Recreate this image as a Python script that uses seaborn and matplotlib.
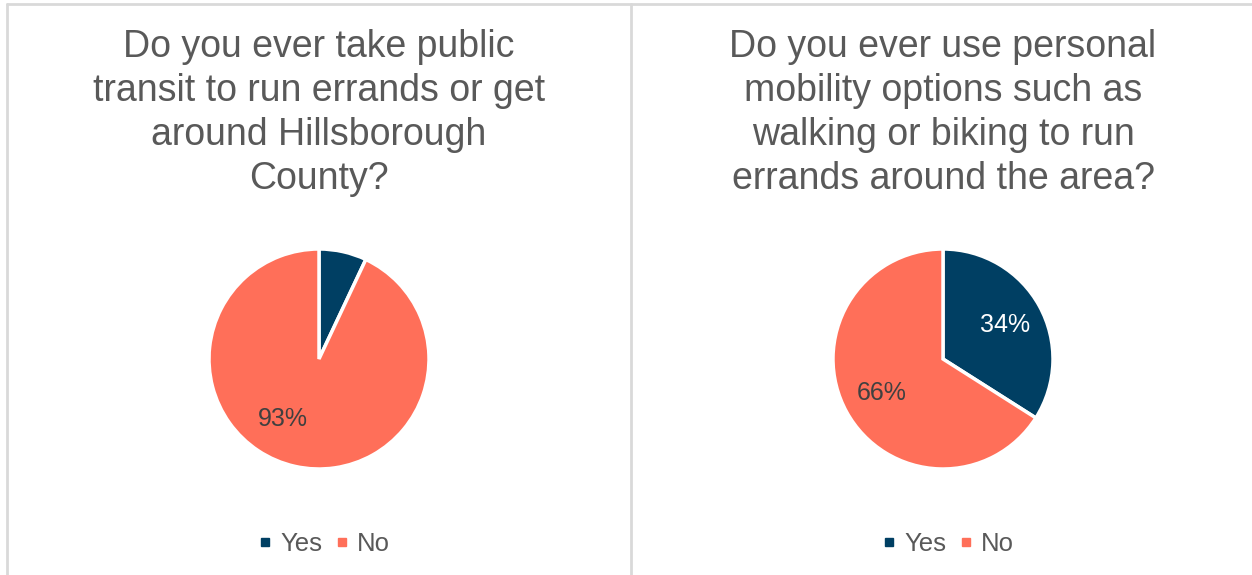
import matplotlib
matplotlib.use("Agg")
import matplotlib.pyplot as plt
from matplotlib.lines import Line2D
import seaborn as sns

# survey answers
labels = ["Yes", "No"]
transit_share = [7, 93]
mobility_share = [34, 66]
titles = [
    "Do you ever take public\ntransit to run errands or get\naround Hillsborough\nCounty?",
    "Do you ever use personal\nmobility options such as\nwalking or biking to run\nerrands around the area?",
]

sns.set_theme(style="white")
plt.rcParams["font.family"] = ["Liberation Sans", "DejaVu Sans"]

colors = ["#003F63", "#FF6F59"]
W, H = 1252, 575
fig = plt.figure(figsize=(W / 100, H / 100), dpi=100)

# panel frames
grid = "#D9D9D9"
fig.add_artist(Line2D([6.5 / W, 6.5 / W], [0, 1 - 3.5 / H], color=grid, lw=2, transform=fig.transFigure))
fig.add_artist(Line2D([6.5 / W, 1], [1 - 3.5 / H, 1 - 3.5 / H], color=grid, lw=2, transform=fig.transFigure))
fig.add_artist(Line2D([631 / W, 631 / W], [0, 1 - 3.5 / H], color=grid, lw=2, transform=fig.transFigure))


def draw_panel(cx, values, title, label_pos=None):
    r = 110
    ax = fig.add_axes([(cx - r) / W, (H - 359 - r) / H, 2 * r / W, 2 * r / H])
    wedges, _, autotexts = ax.pie(
        values, colors=colors, startangle=90, counterclock=False,
        autopct=lambda p: f"{p:.0f}%" if p > 10 else "", pctdistance=0.64,
        wedgeprops=dict(edgecolor="white", linewidth=2.5),
        textprops=dict(fontsize=18, color="#404040"),
    )
    ax.set_xlim(-1, 1)
    ax.set_ylim(-1, 1)
    if values[0] > 10:
        autotexts[0].set_color("white")
    if label_pos is not None:
        autotexts[1].set_position(label_pos)
    fig.text(cx / W, 1 - 29 / H, title, ha="center", va="top", fontsize=27,
             color="#595959", linespacing=1.28)
    handles = [Line2D([], [], marker="s", ls="", color=c, markersize=6) for c in colors]
    fig.legend(handles, labels, loc="center", bbox_to_anchor=(cx / W + 3 / W, 31 / H),
               ncol=2, frameon=False, fontsize=18.5, labelcolor="#595959",
               handletextpad=0.15, columnspacing=0.3, handlelength=0.9)


draw_panel(319, transit_share, titles[0], label_pos=(-0.33, -0.55))
draw_panel(943, mobility_share, titles[1])

fig.savefig("out.png", dpi=100, facecolor="white")
